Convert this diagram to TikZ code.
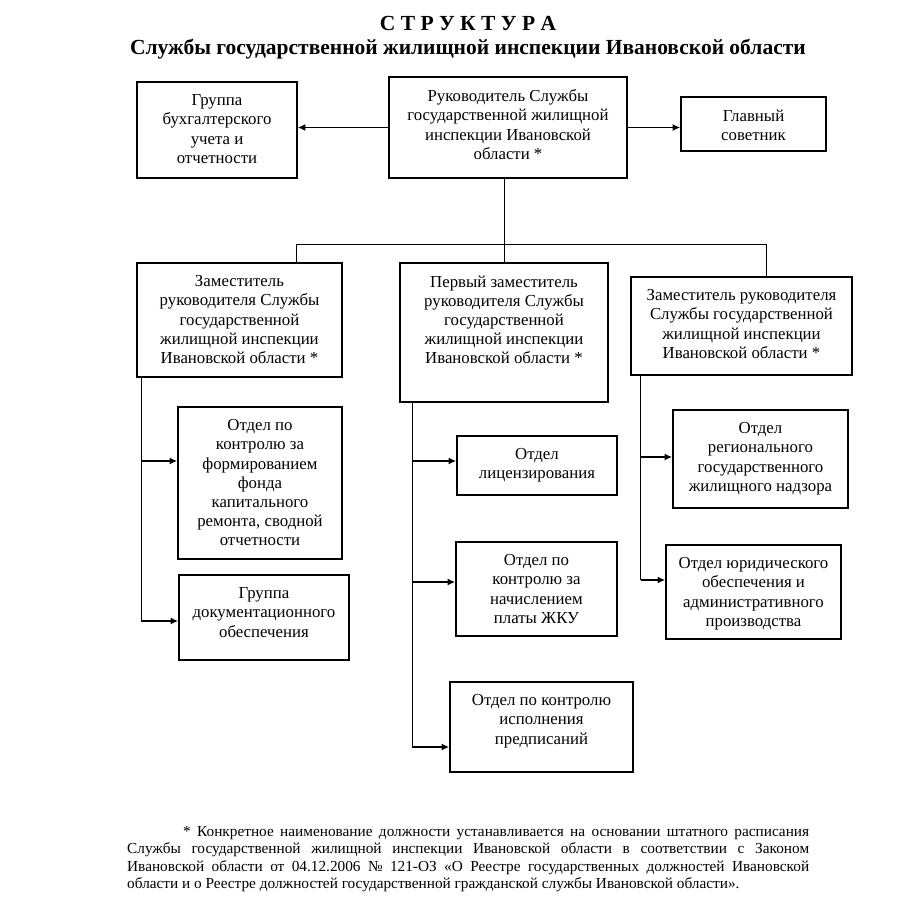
\documentclass[tikz,border=0pt]{standalone}
\usepackage{fontspec}
\setmainfont{Liberation Serif}
\usetikzlibrary{positioning,arrows.meta}

\begin{document}
\begin{tikzpicture}[
   x=1pt,y=-1pt,
   unit/.style={draw,line width=1.8pt,inner sep=0pt},
   txt/.style={align=center,inner sep=0pt,outer sep=0pt,font=\fontsize{16.8}{19.2}\selectfont},
   head/.style={font=\fontsize{21.5}{24}\selectfont\bfseries,inner sep=0pt},
   link/.style={line width=0.9pt},
   arr/.style={-{Latex[length=7.5pt,width=7pt]},line width=1.3pt}]
\useasboundingbox (0,0) rectangle (903,922);
% title
\node[head] (title) at (468,23) {С Т Р У К Т У Р А};
\node[head] (subtitle) at (468,49) {Службы государственной жилищной инспекции Ивановской области};
% top row
\node[unit,minimum width=160pt,minimum height=96pt] (buh) at (217,130) {};
\node[unit,minimum width=238pt,minimum height=101pt] (chief) at (508,127.5) {};
\node[unit,minimum width=145pt,minimum height=54pt] (adviser) at (753.5,124) {};
\node[txt,below=13.5pt of buh.north] (buh-t) {Группа\\бухгалтерского\\учета и\\отчетности};
\node[txt,below=13.5pt of chief.north] (chief-t) {Руководитель Службы\\государственной жилищной\\инспекции Ивановской\\области *};
\node[txt,below=13.5pt of adviser.north] (adviser-t) {Главный\\советник};
% deputies
\node[unit,minimum width=205pt,minimum height=114pt] (dep1) at (239.5,320) {};
\node[unit,minimum width=208pt,minimum height=139pt] (first) at (504,332.5) {};
\node[unit,minimum width=221pt,minimum height=98pt] (dep2) at (741.5,326) {};
\node[txt,below=13.5pt of dep1.north] (dep1-t) {Заместитель\\руководителя Службы\\государственной\\жилищной инспекции\\Ивановской области *};
\node[txt,below=13.5pt of first.north] (first-t) {Первый заместитель\\руководителя Службы\\государственной\\жилищной инспекции\\Ивановской области *};
\node[txt,below=13.5pt of dep2.north] (dep2-t) {Заместитель руководителя\\Службы государственной\\жилищной инспекции\\Ивановской области *};
% departments
\node[unit,minimum width=164pt,minimum height=152pt] (fund) at (260,483) {};
\node[unit,minimum width=170pt,minimum height=85pt] (docs) at (264,617.5) {};
\node[unit,minimum width=160pt,minimum height=59pt] (lic) at (537,465.5) {};
\node[unit,minimum width=161pt,minimum height=94pt] (fees) at (536.5,589) {};
\node[unit,minimum width=183pt,minimum height=90pt] (orders) at (541.5,727) {};
\node[unit,minimum width=175pt,minimum height=98pt] (reg) at (760.5,459) {};
\node[unit,minimum width=175pt,minimum height=94pt] (law) at (753.5,592) {};
\node[txt,below=13.5pt of fund.north] (fund-t) {Отдел по\\контролю за\\формированием\\фонда\\капитального\\ремонта, сводной\\отчетности};
\node[txt,below=13.5pt of docs.north] (docs-t) {Группа\\документационного\\обеспечения};
\node[txt,below=13.5pt of lic.north] (lic-t) {Отдел\\лицензирования};
\node[txt,below=13.5pt of fees.north] (fees-t) {Отдел по\\контролю за\\начислением\\платы ЖКУ};
\node[txt,below=13.5pt of orders.north] (orders-t) {Отдел по контролю\\исполнения\\предписаний};
\node[txt,below=13.5pt of reg.north] (reg-t) {Отдел\\регионального\\государственного\\жилищного надзора};
\node[txt,below=13.5pt of law.north] (law-t) {Отдел юридического\\обеспечения и\\административного\\производства};
% connectors
\coordinate (busL) at (296,244);
\coordinate (busR) at (766,244);
\coordinate (spineA) at (141,377);
\coordinate (spineB) at (412,402);
\coordinate (spineC) at (640.5,375);
\draw[arr] (chief.west) -- (chief.west -| buh.east);
\draw[arr] (chief.east) -- (chief.east -| adviser.west);
\draw[link] (first.north |- chief.south) -- (first.north);
\draw[link] (dep1.north -| busL) |- (busR) -- (dep2.north -| busR);
\draw[link] (spineA) -- (spineA |- 0,621);
\draw[arr] (spineA |- 0,461) -- (fund.west |- 0,461);
\draw[arr] (spineA |- 0,621) -- (docs.west |- 0,621);
\draw[link] (spineB) -- (spineB |- 0,747);
\draw[arr] (spineB |- 0,461) -- (lic.west |- 0,461);
\draw[arr] (spineB |- 0,582) -- (fees.west |- 0,582);
\draw[arr] (spineB |- 0,747) -- (orders.west |- 0,747);
\draw[link] (spineC) -- (spineC |- 0,580);
\draw[arr] (spineC |- 0,457) -- (reg.west |- 0,457);
\draw[arr] (spineC |- 0,580) -- (law.west |- 0,580);
% footnote
\node[anchor=north west,inner sep=0pt,text width=682pt,align=justify,font=\fontsize{15.3}{17.4}\selectfont] (note) at (127,826)
  {\hspace*{56pt}* Конкретное наименование должности устанавливается на основании штатного расписания\linebreak
   Службы государственной жилищной инспекции Ивановской области в соответствии с Законом\linebreak
   Ивановской области от 04.12.2006 № 121-ОЗ «О Реестре государственных должностей Ивановской\linebreak
   области и о Реестре должностей государственной гражданской службы Ивановской области».};
\end{tikzpicture}
\end{document}
